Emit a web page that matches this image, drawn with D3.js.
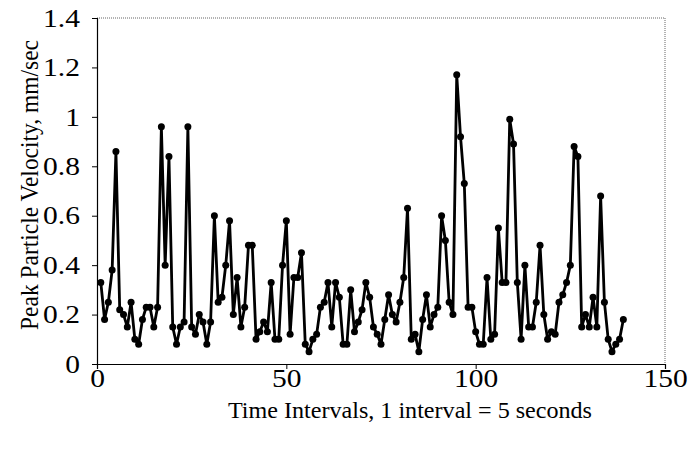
<!DOCTYPE html>
<html><head><meta charset="utf-8">
<script src="https://cdn.jsdelivr.net/npm/d3@7"></script>
<style>body{margin:0;background:#fff}svg text{font-family:"Liberation Serif","Times New Roman",serif;fill:#000}</style>
</head><body>
<svg id="c" width="699" height="450"></svg>
<script>
const values = [0.33,0.18,0.25,0.38,0.86,0.22,0.20,0.15,0.25,0.10,
0.08,0.18,0.23,0.23,0.15,0.23,0.96,0.40,0.84,0.15,
0.08,0.15,0.17,0.96,0.15,0.12,0.20,0.17,0.08,0.17,
0.60,0.25,0.27,0.40,0.58,0.20,0.35,0.15,0.23,0.48,
0.48,0.10,0.13,0.17,0.13,0.33,0.10,0.10,0.40,0.58,
0.12,0.35,0.35,0.45,0.08,0.05,0.10,0.12,0.23,0.25,
0.33,0.15,0.33,0.27,0.08,0.08,0.30,0.13,0.17,0.22,
0.33,0.27,0.15,0.12,0.08,0.18,0.28,0.20,0.17,0.25,
0.35,0.63,0.10,0.12,0.05,0.18,0.28,0.15,0.20,0.23,
0.60,0.50,0.25,0.20,1.17,0.92,0.73,0.23,0.23,0.13,
0.08,0.08,0.35,0.10,0.12,0.55,0.33,0.33,0.99,0.89,
0.33,0.10,0.40,0.15,0.15,0.25,0.48,0.20,0.10,0.13,
0.12,0.25,0.28,0.33,0.40,0.88,0.84,0.15,0.20,0.15,
0.27,0.15,0.68,0.25,0.10,0.05,0.08,0.10,0.18];
const intervals = values.map((v,i)=>i+1);
const xTicks = [0,50,100,150];
const yTicks = [0,0.2,0.4,0.6,0.8,1,1.2,1.4];
const xTitle = "Time Intervals, 1 interval = 5 seconds";
const yTitle = "Peak Particle Velocity, mm/sec";

const svg = d3.select("#c");
const L=97,R=665,T=18,B=364;
const x = d3.scaleLinear().domain([0,150]).range([L,R]);
const y = d3.scaleLinear().domain([0,1.4]).range([B,T]);

svg.append("path").attr("d",`M${L},${T}H${R}V${B}`).attr("fill","none")
  .attr("stroke","#666").attr("stroke-width",1).attr("stroke-dasharray","1,1");

const xa = svg.append("g").attr("transform",`translate(0,${B})`)
  .call(d3.axisBottom(x).tickValues(xTicks).tickSize(5).tickFormat(d3.format("d")));
const ya = svg.append("g").attr("transform",`translate(${L},0)`)
  .call(d3.axisLeft(y).tickValues(yTicks).tickSize(5).tickFormat(d=>String(+d.toFixed(1))));
[xa,ya].forEach(a=>{a.attr("font-family",null);
  a.selectAll("text").style("font-size","25px");
  a.select(".domain").attr("stroke","#000").attr("stroke-width",1.2);
  a.selectAll(".tick line").attr("stroke","#000");});
xa.selectAll("text").attr("y",23).attr("dy",0);
ya.selectAll("text").attr("x",-17).attr("dy","0.33em");
svg.selectAll(".tick text").each(function(){
  const w=this.getComputedTextLength();
  d3.select(this).attr("textLength",w*1.18).attr("lengthAdjust","spacingAndGlyphs");
});

const pts = intervals.map((t,i)=>[t,values[i]]);
svg.append("path").datum(pts).attr("fill","none").attr("stroke","#000").attr("stroke-width",2.8)
  .attr("stroke-linejoin","round")
  .attr("d",d3.line().x(d=>x(d[0])).y(d=>y(d[1])));
svg.append("g").selectAll("circle").data(pts).join("circle")
  .attr("cx",d=>x(d[0])).attr("cy",d=>y(d[1])).attr("r",3.5).attr("fill","#000");

svg.append("text").attr("x",410).attr("y",418).attr("text-anchor","middle")
  .attr("textLength",364).attr("lengthAdjust","spacingAndGlyphs")
  .style("font-size","23px").text(xTitle);
svg.append("text").attr("transform",`translate(38,185) rotate(-90)`).attr("text-anchor","middle")
  .attr("textLength",290).attr("lengthAdjust","spacingAndGlyphs")
  .style("font-size","25px").text(yTitle);
</script>
</body></html>
